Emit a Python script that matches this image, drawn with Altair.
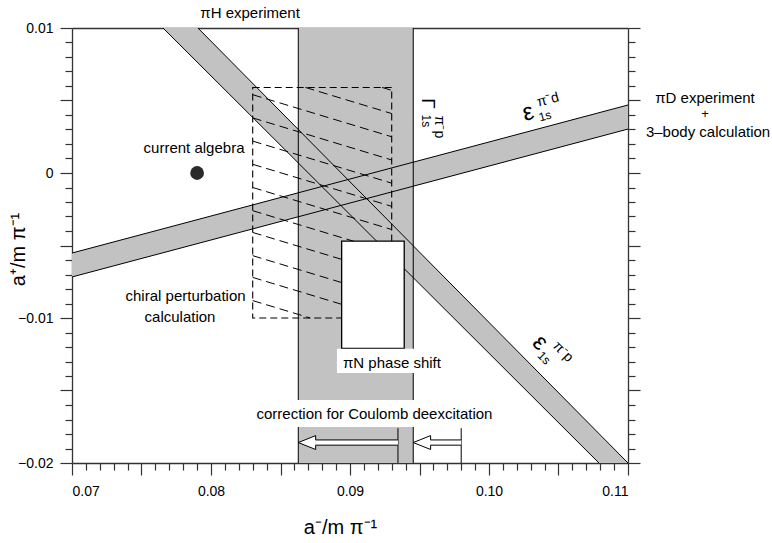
import altair as alt
import pandas as pd
import numpy as np

# ---------------- data ----------------
x_domain = [0.07, 0.11]          # a-/m_pi^-1
y_domain = [-0.02, 0.01]         # a+/m_pi^-1

# Gamma_1s(pi-p) band from the piH experiment (a- limits)
gamma_band = [0.08628, 0.09455]
gamma_corr_edge = 0.09345        # corrected edge (Coulomb deexcitation)
gamma_uncorr_edge = 0.0980       # uncorrected edge
corr_marker_top = -0.0176        # upper end of the correction markers
arrow_y = -0.01859

# epsilon_1s(pi-d) band: a+ at the two ends of the a- axis
pid_x = [0.07, 0.11]
pid_lo = [-0.00717, 0.00303]
pid_hi = [-0.00552, 0.00469]

# epsilon_1s(pi-p) band: a- at the two ends of the a+ axis
pip_y = [0.01, -0.02]
pip_left = [0.07655, 0.10791]
pip_right = [0.07906, 0.11000]

# chiral perturbation calculation (dashed box + hatch)
chpt_x = [0.0830, 0.0930]
chpt_y = [-0.0100, 0.0059]
hatch_left = [0.0086, 0.0070, 0.0054, 0.0038, 0.0022, 0.0006,
              -0.0010, -0.0026, -0.0041, -0.0057, -0.0072, -0.0088]
hatch_drop = 0.0029

# piN phase shift box
piN_x = [0.0894, 0.0939]
piN_y = [-0.0121, -0.0047]

# current algebra point
ca_x = [0.079]
ca_y = [0.0]

GRAY = "#c2c2c2"
FONT = "Liberation Sans"

xs = alt.Scale(domain=x_domain, nice=False, zero=False)
ys = alt.Scale(domain=y_domain, nice=False, zero=False)


def X(f="x"):
    return alt.X(f"{f}:Q", scale=xs, axis=None)


def Y(f="y"):
    return alt.Y(f"{f}:Q", scale=ys, axis=None)


layers = []

# ---- fills ----
layers.append(alt.Chart(pd.DataFrame({"x": [gamma_band[0]], "x2": [gamma_band[1]],
                                      "y": [y_domain[0]], "y2": [y_domain[1]]}))
              .mark_rect(color=GRAY).encode(x=X(), x2="x2", y=Y(), y2="y2"))
layers.append(alt.Chart(pd.DataFrame({"x": pid_x, "lo": pid_lo, "hi": pid_hi}))
              .mark_area(color=GRAY).encode(x=X(), y=Y("lo"), y2="hi"))
layers.append(alt.Chart(pd.DataFrame({"y": pip_y, "l": pip_left, "r": pip_right}))
              .mark_area(color=GRAY, orient="horizontal").encode(y=Y(), x=X("l"), x2="r"))

# ---- chiral perturbation dashed box and hatch ----
layers.append(alt.Chart(pd.DataFrame({"x": [chpt_x[0]], "x2": [chpt_x[1]],
                                      "y": [chpt_y[0]], "y2": [chpt_y[1]]}))
              .mark_rect(fillOpacity=0, stroke="black", strokeWidth=1.1, strokeDash=[7, 4])
              .encode(x=X(), x2="x2", y=Y(), y2="y2"))
x0, x1 = chpt_x
slope = hatch_drop / (x1 - x0)
hs = []
for yl in hatch_left:
    xa, ya = x0, yl
    if ya > chpt_y[1]:
        xa, ya = x0 + (yl - chpt_y[1]) / slope, chpt_y[1]
    xb, yb = x1, yl - hatch_drop
    if yb < chpt_y[0]:
        xb, yb = x0 + (yl - chpt_y[0]) / slope, chpt_y[0]
    if xa < xb:
        hs.append({"x": xa, "y": ya, "x2": xb, "y2": yb})
layers.append(alt.Chart(pd.DataFrame(hs))
              .mark_rule(color="black", strokeWidth=1, strokeDash=[9, 5])
              .encode(x=X(), y=Y(), x2="x2", y2="y2"))

# ---- band edges ----
edges = [
    {"x": gamma_band[0], "y": y_domain[0], "x2": gamma_band[0], "y2": y_domain[1]},
    {"x": gamma_band[1], "y": y_domain[0], "x2": gamma_band[1], "y2": y_domain[1]},
    {"x": pid_x[0], "y": pid_lo[0], "x2": pid_x[1], "y2": pid_lo[1]},
    {"x": pid_x[0], "y": pid_hi[0], "x2": pid_x[1], "y2": pid_hi[1]},
    {"x": pip_left[0], "y": pip_y[0], "x2": pip_left[1], "y2": pip_y[1]},
    {"x": pip_right[0], "y": pip_y[0], "x2": pip_right[1], "y2": pip_y[1]},
]
layers.append(alt.Chart(pd.DataFrame(edges)).mark_rule(color="black", strokeWidth=1)
              .encode(x=X(), y=Y(), x2="x2", y2="y2"))

# ---- piN phase shift box ----
layers.append(alt.Chart(pd.DataFrame({"x": [piN_x[0]], "x2": [piN_x[1]],
                                      "y": [piN_y[0]], "y2": [piN_y[1]]}))
              .mark_rect(fill="white", stroke="black", strokeWidth=1.3)
              .encode(x=X(), x2="x2", y=Y(), y2="y2"))

# ---- white backgrounds behind labels crossing the band ----
bg = pd.DataFrame({"x": [0.08906, 0.0858], "x2": [0.09480, 0.0950],
                   "y": [-0.01379, -0.01752], "y2": [-0.01212, -0.01566]})
layers.append(alt.Chart(bg).mark_rect(fill="white")
              .encode(x=X(), x2="x2", y=Y(), y2="y2"))

# ---- correction markers and arrows ----
vl = pd.DataFrame({"x": [gamma_corr_edge, gamma_uncorr_edge],
                   "y": [y_domain[0], y_domain[0]],
                   "y2": [corr_marker_top, corr_marker_top]})
layers.append(alt.Chart(vl).mark_rule(color="black", strokeWidth=1)
              .encode(x=X(), y=Y(), y2="y2"))

head_len = 0.00125
head_h = 0.00048
shaft_h = 0.00018
for tip, tail in [(gamma_band[1], gamma_uncorr_edge), (gamma_band[0], gamma_corr_edge)]:
    base = tip + head_len
    tri = pd.DataFrame({"x": [tip, base], "y": [arrow_y, arrow_y - head_h],
                        "y2": [arrow_y, arrow_y + head_h]})
    layers.append(alt.Chart(tri).mark_area(fill="white", stroke="black", strokeWidth=1)
                  .encode(x=X(), y=Y(), y2="y2"))
    sh = pd.DataFrame({"x": [base - 0.00004], "x2": [tail],
                       "y": [arrow_y - shaft_h], "y2": [arrow_y + shaft_h]})
    layers.append(alt.Chart(sh).mark_rect(fill="white")
                  .encode(x=X(), x2="x2", y=Y(), y2="y2"))
    se = pd.DataFrame({"x": [base, base], "x2": [tail, tail],
                       "y": [arrow_y - shaft_h, arrow_y + shaft_h],
                       "y2": [arrow_y - shaft_h, arrow_y + shaft_h]})
    layers.append(alt.Chart(se).mark_rule(color="black", strokeWidth=1)
                  .encode(x=X(), x2="x2", y=Y(), y2="y2"))


# ---- text labels ----
def label(x, y, text, size=15, angle=None, align="center", font=FONT):
    kw = dict(fontSize=size, align=align, baseline="middle", font=font, color="black")
    if angle is not None:
        kw["angle"] = angle
    return alt.Chart(pd.DataFrame({"x": [x], "y": [y], "t": [text]})).mark_text(**kw).encode(
        x=X(), y=Y(), text="t:N")


texts = [
    (0.08281, 0.01103, "πH  experiment", 15, None),
    (0.07878, 0.00172, "current  algebra", 15, None),
    (0.07817, -0.00848, "chiral  perturbation", 15, None),
    (0.07777, -0.00993, "calculation", 15, None),
    (0.09302, -0.01310, "πN  phase  shift", 15, None),
    (0.09176, -0.01662, "correction  for  Coulomb  deexcitation", 15, None),
    (0.11554, 0.00520, "πD  experiment", 15, None),
    (0.11554, 0.00408, "+", 13, None),
    (0.11576, 0.00282, "3–body  calculation", 15, None),
    # Gamma_1s^{pi-p}
    (0.09561, 0.00479, "Γ", 19, 90),
    (0.09547, 0.00359, "1s", 12, 90),
    (0.09640, 0.00317, "π⁻p", 14, 90),
    # epsilon_1s^{pi-d}
    (0.10281, 0.00414, "ε", 24, 345),
    (0.10403, 0.00393, "1s", 12, 345),
    (0.10424, 0.00503, "π⁻d", 14, 345),
    # epsilon_1s^{pi-p}
    (0.10367, -0.01172, "ε", 24, 45),
    (0.10396, -0.01276, "1s", 12, 45),
    (0.10532, -0.01234, "π⁻p", 14, 45),
]
for (tx, ty, tt, tsz, ta) in texts:
    layers.append(label(tx, ty, tt, tsz, ta))

# ---- current algebra point ----
layers.append(alt.Chart(pd.DataFrame({"x": ca_x, "y": ca_y}))
              .mark_point(filled=True, size=190, color="#2a2a2a", opacity=1)
              .encode(x=X(), y=Y()))

# ---- axes ----
y_major = [round(v, 4) for v in np.arange(-0.02, 0.0101, 0.005)]
y_minor = [round(v, 4) for v in np.arange(-0.02, 0.0101, 0.001)
           if abs(round(v * 200) - v * 200) > 1e-6]
x_major = [round(v, 4) for v in np.arange(0.07, 0.1101, 0.005)]
x_minor = [round(v, 4) for v in np.arange(0.07, 0.1101, 0.001)
           if abs(round(v * 200) - v * 200) > 1e-6]

AX = dict(grid=False, tickColor="#333", tickWidth=1.2, domainColor="#333",
          domainWidth=1.3, labelFont=FONT, labelFontSize=14, labelColor="black")

ylab = ("abs(datum.value*100 - round(datum.value*100)) < 0.01 ? "
        "(datum.value == 0 ? '0' : format(datum.value, '.2f')) : ''")
xlab = ("abs(datum.value*100 - round(datum.value*100)) < 0.01 ? "
        "format(datum.value, '.2f') : ''")

pt = pd.DataFrame({"x": [0.09], "y": [0.0]})


def axis_layer(xaxis, yaxis):
    return alt.Chart(pt).mark_point(opacity=0).encode(
        x=alt.X("x:Q", scale=xs, axis=xaxis),
        y=alt.Y("y:Q", scale=ys, axis=yaxis))


layers.append(axis_layer(
    alt.Axis(orient="bottom", values=x_major, tickSize=12, labelExpr=xlab, labelPadding=9,
             domain=True, title="a⁻/m π⁻¹", titleFont=FONT, titleFontSize=20,
             titleFontWeight="normal", titleX=268, titleY=64, titleBaseline="middle",
             titleAlign="center", **AX),
    alt.Axis(orient="left", values=y_major, tickSize=12, labelExpr=ylab, labelPadding=7,
             domain=True, title="a⁺/m π⁻¹", titleFont=FONT, titleFontSize=20,
             titleFontWeight="normal", titleAngle=270, titleX=-54, titleY=221,
             titleBaseline="middle", titleAlign="center", **AX)))
layers.append(axis_layer(
    alt.Axis(orient="bottom", values=x_minor, tickSize=7, labels=False, domain=False,
             title=None, **AX),
    alt.Axis(orient="left", values=y_minor, tickSize=7, labels=False, domain=False,
             title=None, **AX)))
layers.append(axis_layer(
    alt.Axis(orient="top", ticks=False, labels=False, domain=True, title=None, **AX),
    alt.Axis(orient="right", values=y_major, tickSize=12, labels=False, domain=True,
             title=None, **AX)))
layers.append(axis_layer(
    None,
    alt.Axis(orient="right", values=y_minor, tickSize=7, labels=False, domain=False,
             title=None, **AX)))

chart = (alt.layer(*layers)
         .resolve_axis(x="independent", y="independent")
         .properties(width=556, height=435,
                     autosize=alt.AutoSizeParams(type="none"),
                     padding={"left": 72, "top": 28, "right": 144, "bottom": 80},
                     background="white")
         .configure_view(stroke=None))

chart.save("out.html", embed_options={"renderer": "svg", "actions": False})
